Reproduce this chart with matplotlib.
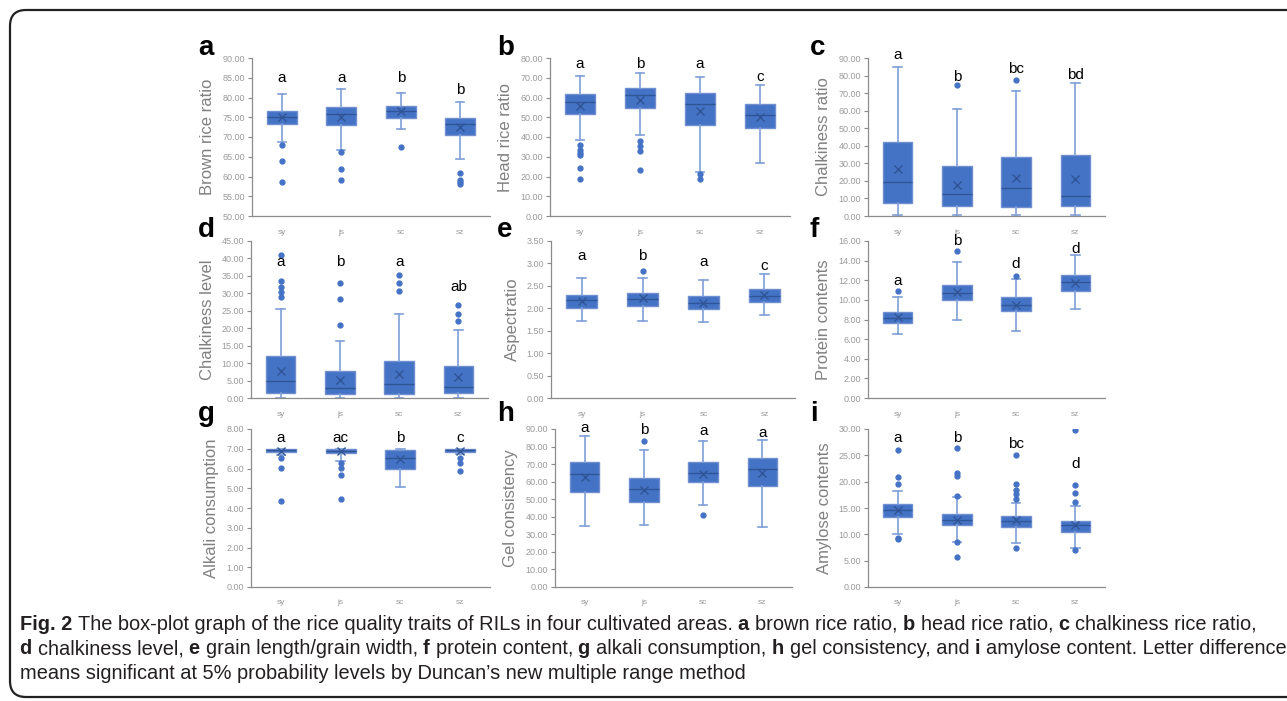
import matplotlib
matplotlib.use("Agg")
import matplotlib.pyplot as plt
import matplotlib.patches as mpatches
from matplotlib.transforms import IdentityTransform
from matplotlib import font_manager

W, H = 1287, 701

# ---- data ----
areas = ["sy", "js", "sc", "sz"]

ylabels = ["Brown rice ratio", "Head rice ratio", "Chalkiness ratio",
           "Chalkiness level", "Aspectratio", "Protein contents",
           "Alkali consumption", "Gel consistency", "Amylose contents"]
panel_tags = ["a", "b", "c", "d", "e", "f", "g", "h", "i"]

ylims = [(50, 90, 5), (0, 80, 10), (0, 90, 10),
         (0, 45, 5), (0, 3.5, 0.5), (0, 16, 2),
         (0, 8, 1), (0, 90, 10), (0, 30, 5)]

whislo = [[68.8, 66.7, 72.0, 64.4],
          [38.5, 41.0, 22.4, 27.0],
          [0.4, 0.4, 0.4, 0.8],
          [0.1, 0.1, 0.1, 0.1],
          [1.72, 1.72, 1.70, 1.84],
          [6.56, 7.92, 6.86, 9.04],
          [6.70, 6.36, 5.05, 6.75],
          [34.7, 35.5, 46.5, 34.4],
          [10.0, 8.6, 8.4, 7.4]]
q1 = [[73.3, 73.1, 74.9, 70.5],
      [51.7, 54.7, 46.1, 44.4],
      [7.4, 5.5, 5.1, 5.7],
      [1.5, 1.2, 1.2, 1.4],
      [2.01, 2.06, 1.99, 2.15],
      [7.68, 9.95, 8.87, 10.87],
      [6.83, 6.77, 6.00, 6.86],
      [53.9, 48.4, 60.0, 57.5],
      [13.2, 11.7, 11.4, 10.5]]
med = [[75.0, 75.8, 76.6, 73.2],
       [57.8, 61.2, 56.8, 51.0],
       [19.1, 12.4, 15.8, 11.4],
       [4.8, 2.8, 4.0, 3.1],
       [2.18, 2.21, 2.12, 2.27],
       [8.15, 10.70, 9.48, 11.82],
       [6.93, 6.90, 6.53, 6.95],
       [64.4, 55.6, 64.9, 67.4],
       [14.55, 12.65, 12.5, 11.75]]
q3 = [[76.7, 77.5, 77.9, 74.9],
      [61.9, 64.6, 62.5, 56.8],
      [42.3, 28.2, 33.4, 34.7],
      [12.0, 7.7, 10.7, 9.3],
      [2.30, 2.34, 2.27, 2.42],
      [8.73, 11.52, 10.26, 12.54],
      [7.00, 7.00, 6.95, 7.00],
      [71.0, 62.1, 71.0, 73.7],
      [15.7, 13.85, 13.5, 12.6]]
whishi = [[80.8, 82.1, 81.1, 78.8],
          [70.7, 72.4, 70.3, 66.4],
          [84.7, 61.0, 71.3, 75.7],
          [25.5, 16.3, 24.2, 19.6],
          [2.67, 2.67, 2.62, 2.76],
          [10.33, 13.9, 12.13, 14.57],
          [7.00, 7.00, 7.00, 7.00],
          [85.8, 78.2, 83.4, 83.7],
          [18.3, 17.1, 16.0, 15.4]]
means = [[75.0, 75.0, 76.5, 72.6],
         [55.8, 58.8, 53.4, 50.0],
         [26.5, 17.9, 21.7, 21.3],
         [7.8, 5.2, 6.9, 6.1],
         [2.16, 2.22, 2.12, 2.29],
         [8.29, 10.77, 9.50, 11.75],
         [6.90, 6.88, 6.50, 6.90],
         [62.5, 55.4, 64.4, 64.9],
         [14.55, 12.8, 12.7, 11.75]]
outliers = [
    [[68.1, 64.0, 58.5], [66.2, 62.0, 59.1], [67.5], [61.0, 59.2, 58.7, 58.2]],
    [[35.9, 33.4, 32.0, 30.8, 24.1, 18.6], [38.0, 35.4, 32.9, 23.4], [21.5, 18.6], []],
    [[], [74.4], [77.6], []],
    [[41.0, 33.5, 31.8, 30.4, 29.0], [33.1, 28.3, 21.0], [35.3, 32.9, 30.8], [26.6, 24.2, 22.1]],
    [[], [2.84], [], []],
    [[10.87], [15.0], [12.47], []],
    [[6.53, 6.02, 4.37], [6.30, 6.02, 5.68, 4.44], [], [6.53, 6.30, 5.88]],
    [[], [83.4], [41.2], []],
    [[26.1, 20.85, 19.5, 9.34, 9.1], [26.3, 21.7, 21.0, 17.2, 8.45, 5.7],
     [25.1, 19.6, 18.5, 17.6, 16.65, 7.5], [29.8, 19.3, 17.8, 16.1, 7.1]],
]
sig_letters = [["a", "a", "b", "b"],
               ["a", "b", "a", "c"],
               ["a", "b", "bc", "bd"],
               ["a", "b", "a", "ab"],
               ["a", "b", "a", "c"],
               ["a", "b", "d", "d"],
               ["a", "ac", "b", "c"],
               ["a", "b", "a", "a"],
               ["a", "b", "bc", "d"]]
sig_y = [[84.9, 84.9, 84.9, 81.8],
         [77.0, 77.0, 77.0, 70.2],
         [91.5, 79.1, 83.9, 80.5],
         [39.1, 39.1, 39.1, 31.7],
         [3.17, 3.17, 3.04, 2.94],
         [11.92, 16.0, 13.66, 15.2],
         [7.54, 7.54, 7.54, 7.54],
         [90.6, 89.6, 88.7, 87.7],
         [28.3, 28.3, 27.1, 23.3]]

caption_lines = [
    [("Fig. 2 ", True), ("The box-plot graph of the rice quality traits of RILs in four cultivated areas. ", False),
     ("a ", True), ("brown rice ratio, ", False), ("b ", True), ("head rice ratio, ", False),
     ("c ", True), ("chalkiness rice ratio,", False)],
    [("d ", True), ("chalkiness level, ", False), ("e ", True), ("grain length/grain width, ", False),
     ("f ", True), ("protein content, ", False), ("g ", True), ("alkali consumption, ", False),
     ("h ", True), ("gel consistency, and ", False), ("i ", True),
     ("amylose content. Letter difference", False)],
    [("means significant at 5% probability levels by Duncan\u2019s new multiple range method", False)],
]

# ---- layout (pixels: left, right, top, bottom) ----
boxes_px = [(252, 490, 58, 216), (550, 790, 58, 216), (868, 1105, 58, 216),
            (251, 488, 241, 398), (551, 795, 241, 398), (868, 1105, 241, 398),
            (251, 490, 429, 587), (555, 792, 429, 587), (868, 1105, 429, 587)]
tag_x = [198, 497, 810]
tag_base = [55, 237, 421]

BLUE = "#4472C4"
LIGHT = "#7f9fd8"
DARK = "#2f5597"
GRAY = "#8c8c8c"

plt.rcParams["font.family"] = ["Liberation Sans", "DejaVu Sans"]

fig = plt.figure(figsize=(W / 100, H / 100), dpi=100)

for k in range(9):
    l, r, t, b = boxes_px[k]
    ax = fig.add_axes([l / W, 1 - b / H, (r - l) / W, (b - t) / H])
    stats = []
    for j in range(4):
        stats.append(dict(med=med[k][j], q1=q1[k][j], q3=q3[k][j],
                          whislo=whislo[k][j], whishi=whishi[k][j],
                          mean=means[k][j], fliers=outliers[k][j], label=areas[j]))
    ax.bxp(stats, positions=[1, 2, 3, 4], widths=0.5, capwidths=0.14,
           showmeans=True, patch_artist=True,
           boxprops=dict(facecolor=BLUE, edgecolor="#6f8fd0", linewidth=1.0),
           whiskerprops=dict(color=LIGHT, linewidth=1.2),
           capprops=dict(color=LIGHT, linewidth=1.2),
           medianprops=dict(color=DARK, linewidth=1.0),
           meanprops=dict(marker="x", markeredgecolor=DARK, markersize=6, markeredgewidth=1.0),
           flierprops=dict(marker="o", markerfacecolor=BLUE, markeredgecolor=BLUE,
                           markersize=3.5, linestyle="none"))
    lo, hi, step = ylims[k]
    ax.set_ylim(lo, hi)
    n = int(round((hi - lo) / step))
    ax.set_yticks([lo + i * step for i in range(n + 1)])
    ax.yaxis.set_major_formatter(matplotlib.ticker.FormatStrFormatter("%.2f"))
    ax.set_xlim(0.5, 4.5)
    ax.set_xticks([1, 2, 3, 4])
    ax.set_xticklabels(areas)
    ax.tick_params(axis="x", length=0, pad=9, labelsize=6, labelcolor="#9a9a9a")
    ax.tick_params(axis="y", direction="out", length=3, width=0.8, color=GRAY,
                   labelsize=6.5, labelcolor="#9a9a9a", pad=2)
    for s in ["top", "right"]:
        ax.spines[s].set_visible(False)
    for s in ["left", "bottom"]:
        ax.spines[s].set_color(GRAY)
        ax.spines[s].set_linewidth(0.9)
    ax.set_ylabel(ylabels[k], fontsize=12, color="#808080", labelpad=5)
    for j in range(4):
        ax.text(j + 1, sig_y[k][j], sig_letters[k][j], ha="center", va="center",
                fontsize=11, color="black", clip_on=False)
    fig.text(tag_x[k % 3] / W, 1 - tag_base[k // 3] / H, panel_tags[k],
             fontsize=20, fontweight="bold", ha="left", va="baseline")

# ---- caption ----
names = {f.name for f in font_manager.fontManager.ttflist}
cap_font = "Liberation Sans Narrow" if "Liberation Sans Narrow" in names else "Liberation Sans"
renderer = fig.canvas.get_renderer()


def piece_width(txt, bold, size):
    t1 = fig.text(0, 0, txt + "|", fontsize=size, family=cap_font,
                  fontweight="bold" if bold else "normal")
    t2 = fig.text(0, 0, "|", fontsize=size, family=cap_font,
                  fontweight="bold" if bold else "normal")
    w = t1.get_window_extent(renderer).width - t2.get_window_extent(renderer).width
    t1.remove()
    t2.remove()
    return w


size = 11
line2_w = sum(piece_width(t, b, size) for t, b in caption_lines[1])
size = size * 1262 / line2_w

baselines = [630, 654.5, 679]
for line, base in zip(caption_lines, baselines):
    x = 20
    for txt, bold in line:
        fig.text(x / W, 1 - base / H, txt, fontsize=size, family=cap_font,
                 fontweight="bold" if bold else "normal", color="#231f20",
                 ha="left", va="baseline")
        x += piece_width(txt, bold, size)

# ---- rounded frame ----
frame = mpatches.FancyBboxPatch((10, 4), 1300, 687,
                                boxstyle="round,pad=0,rounding_size=16",
                                transform=IdentityTransform(), fill=False,
                                edgecolor="#222222", linewidth=1.6)
fig.add_artist(frame)

fig.savefig("out.png", dpi=100)
